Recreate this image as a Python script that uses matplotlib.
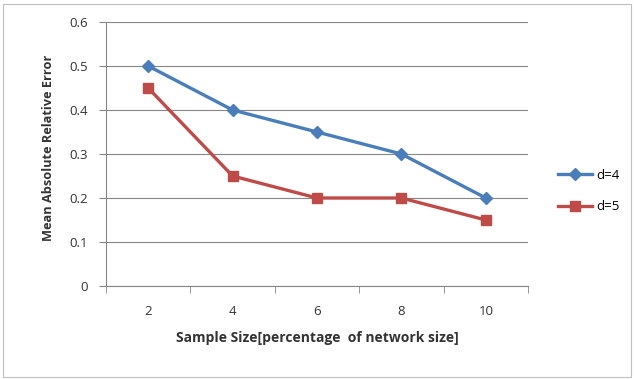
import matplotlib.pyplot as plt
from matplotlib.patches import Rectangle
from matplotlib.lines import Line2D

sizes = ["2", "4", "6", "8", "10"]
d4 = [0.5, 0.4, 0.35, 0.3, 0.2]
d5 = [0.45, 0.25, 0.2, 0.2, 0.15]
yticks = [0, 0.1, 0.2, 0.3, 0.4, 0.5, 0.6]

plt.rcParams["font.family"] = ["Open Sans", "DejaVu Sans"]
grey = "#868686"
txt = "#333333"

fig = plt.figure(figsize=(6.37, 3.79), dpi=100)
fig.patches.append(Rectangle((0.004, 0.005), 0.986, 0.985, transform=fig.transFigure,
                             fill=False, edgecolor="#bfbfbf", linewidth=0.8))
ax = fig.add_axes([106 / 637, 1 - 286 / 379, 422 / 637, 264 / 379])

x = list(range(len(sizes)))
ax.plot(x, d4, color="#4A7EBB", lw=2.4, marker="D", ms=6.5, label="d=4")
ax.plot(x, d5, color="#BE4B48", lw=2.4, marker="s", ms=7, label="d=5")

ax.set_xlim(-0.5, len(sizes) - 0.5)
ax.set_ylim(0, 0.6)
ax.set_yticks(yticks)
ax.set_yticklabels(["0"] + [f"{v:.1f}" for v in yticks[1:]])
ax.set_xticks(x)
ax.set_xticklabels(sizes)
ax.set_xticks([i - 0.5 for i in range(len(sizes) + 1)], minor=True)
ax.tick_params(axis="x", which="major", length=0, pad=14, labelsize=9.5, colors=txt)
ax.tick_params(axis="x", which="minor", length=5, color=grey, direction="out")
ax.tick_params(axis="y", length=5, color=grey, labelsize=9.5, colors=txt, pad=8)
ax.grid(axis="y", color=grey, lw=0.8)
ax.set_axisbelow(True)
for s in ["top", "right"]:
    ax.spines[s].set_visible(False)
for s in ["left", "bottom"]:
    ax.spines[s].set_color(grey)

ax.set_xlabel("Sample Size[percentage  of network size]", fontsize=10,
              fontweight="bold", color=txt, labelpad=9)
ax.set_ylabel("Mean Absolute Relative Error", fontsize=9.2,
              fontweight="bold", color=txt)
ax.yaxis.set_label_coords(-0.122, 0.523)

handles = [Line2D([], [], color="#4A7EBB", lw=2.4, marker="D", ms=6.5),
           Line2D([], [], color="#BE4B48", lw=2.4, marker="s", ms=7)]
fig.legend(handles, ["d=4", "d=5"], loc="center left", bbox_to_anchor=(0.857, 0.496),
           frameon=False, fontsize=9.5, handlelength=2.6, handletextpad=0.3,
           labelspacing=1.4)

fig.savefig("out.png", dpi=100)
